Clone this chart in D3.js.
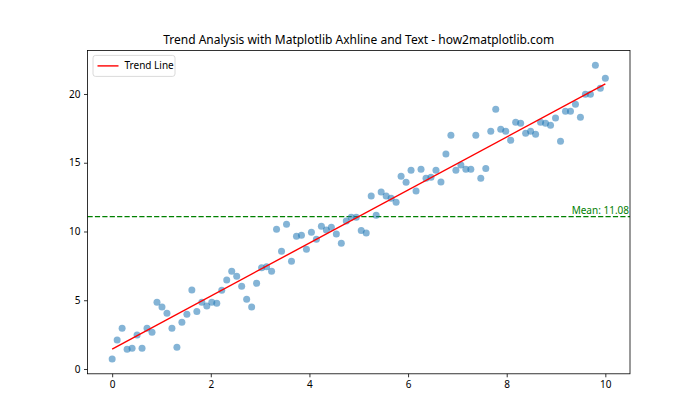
<!DOCTYPE html>
<html><head><meta charset="utf-8">
<script src="https://cdn.jsdelivr.net/npm/d3@7"></script>
<style>body{margin:0;background:#fff;}svg{display:block;font-family:"Noto Sans","DejaVu Sans",sans-serif;}</style>
</head><body><svg id="c" width="700" height="420"></svg>
<script>
const yValues = [0.73,2.11,2.96,1.43,1.50,2.47,1.50,2.96,2.67,4.85,
4.51,4.05,2.96,1.58,3.40,3.98,5.75,4.19,4.85,4.58,
4.85,4.78,5.72,6.47,7.10,6.74,6.01,5.07,4.51,6.23,
7.37,7.44,7.10,10.16,8.56,10.52,7.83,9.65,9.72,8.70,
9.95,9.44,10.38,10.11,10.30,9.82,9.14,10.76,11.03,11.03,
10.08,9.89,12.58,11.18,12.87,12.58,12.41,12.12,14.01,13.59,
14.45,12.94,14.52,13.87,13.94,14.45,13.60,15.64,17.00,14.45,
14.84,14.52,14.52,17.00,13.87,14.59,17.29,18.89,17.43,17.29,
16.63,17.94,17.87,17.14,17.29,17.07,17.94,17.87,17.72,18.25,
16.56,18.74,18.74,19.25,18.31,19.98,19.98,22.09,20.41,21.14];
const xValues = yValues.map((_, i) => i * 10 / 99);
const trendX = [0, 10];
const trendY = [1.45, 20.73];
const meanValue = 11.08;
const xTicks = [0, 2, 4, 6, 8, 10];
const yTicks = [0, 5, 10, 15, 20];
const title = "Trend Analysis with Matplotlib Axhline and Text - how2matplotlib.com";

const L = 87.5, R = 630, T = 50.4, B = 373.8;
const svg = d3.select("#c");
const x = d3.scaleLinear().domain([-0.5, 10.5]).range([L, R]);
const y = d3.scaleLinear().domain([-0.35, 23.17]).range([B, T]);

// mean line
svg.append("line").attr("x1", L).attr("x2", R).attr("y1", y(meanValue)).attr("y2", y(meanValue))
  .attr("stroke", "green").attr("stroke-width", 1.4).attr("stroke-dasharray", "5.2,2.2");

// points
svg.append("g").selectAll("circle").data(yValues).join("circle")
  .attr("cx", (d, i) => x(xValues[i])).attr("cy", d => y(d)).attr("r", 3.5)
  .attr("fill", "#1f77b4").attr("fill-opacity", 0.55);

// trend line
svg.append("line").attr("x1", x(trendX[0])).attr("x2", x(trendX[1]))
  .attr("y1", y(trendY[0])).attr("y2", y(trendY[1]))
  .attr("stroke", "red").attr("stroke-width", 1.4);

// mean text
svg.append("text").attr("x", R - 1).attr("y", y(meanValue) - 2.5).attr("text-anchor", "end")
  .attr("fill", "green").attr("font-size", 10).text("Mean: " + meanValue.toFixed(2));

// frame
svg.append("rect").attr("x", L).attr("y", T).attr("width", R - L).attr("height", B - T)
  .attr("fill", "none").attr("stroke", "#000").attr("stroke-width", 0.8);

const xa = svg.append("g").attr("transform", `translate(0,${B})`)
  .call(d3.axisBottom(x).tickValues(xTicks).tickSize(3.5).tickPadding(3.5).tickFormat(d3.format("d")));
const ya = svg.append("g").attr("transform", `translate(${L},0)`)
  .call(d3.axisLeft(y).tickValues(yTicks).tickSize(3.5).tickPadding(3.5).tickFormat(d3.format("d")));
[xa, ya].forEach(a => {
  a.select(".domain").remove();
  a.selectAll("line").attr("stroke", "#000").attr("stroke-width", 0.8);
  a.selectAll("text").attr("font-size", 10).attr("fill", "#000").attr("font-family", "Noto Sans, DejaVu Sans, sans-serif");
});

// title
svg.append("text").attr("x", (L + R) / 2).attr("y", T - 6).attr("text-anchor", "middle")
  .attr("font-size", 12).attr("fill", "#000").text(title);

// legend
const lg = svg.append("g");
lg.append("rect").attr("x", L + 5.5).attr("y", T + 5).attr("width", 82).attr("height", 21)
  .attr("rx", 2.5).attr("fill", "#fff").attr("fill-opacity", 0.8).attr("stroke", "#d0d0d0").attr("stroke-width", 0.8);
lg.append("line").attr("x1", L + 10).attr("x2", L + 31).attr("y1", T + 15.5).attr("y2", T + 15.5)
  .attr("stroke", "red").attr("stroke-width", 1.4);
lg.append("text").attr("x", L + 37).attr("y", T + 19).attr("font-size", 10).attr("fill", "#000").text("Trend Line");
</script></body></html>
